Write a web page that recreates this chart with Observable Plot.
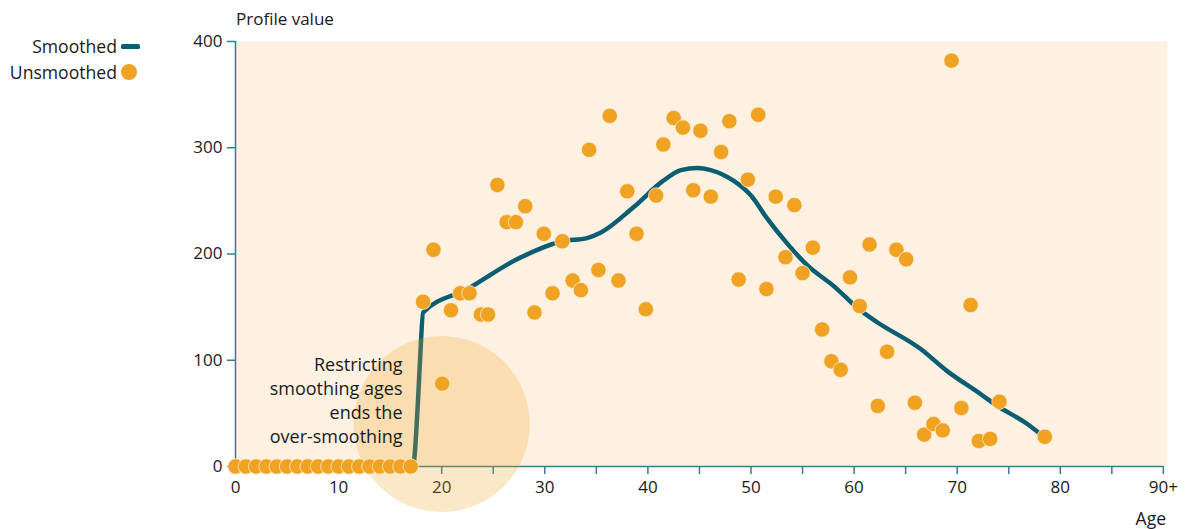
<!DOCTYPE html>
<html>
<head>
<meta charset="utf-8">
<script src="https://cdn.jsdelivr.net/npm/d3@7"></script>
<script src="https://cdn.jsdelivr.net/npm/@observablehq/plot@0.6"></script>
<style>
  body { margin: 0; background: #ffffff; }
  #wrap { position: relative; width: 1188px; height: 529px; font-family: "Open Sans", sans-serif; color: #1a1a1a; }
  #wrap svg { position: absolute; left: 0; top: 0; }
  .lbl { position: absolute; font-size: 17px; line-height: 20px; white-space: nowrap; }
</style>
</head>
<body>
<div id="wrap"></div>
<script>
// ---- data ----
const zeroAges = [0, 1, 2, 3, 4, 5, 6, 7, 8, 9, 10, 11, 12, 13, 14, 15, 16, 17];
const zeroValues = [0, 0, 0, 0, 0, 0, 0, 0, 0, 0, 0, 0, 0, 0, 0, 0, 0, 0];

const dotAges = [18.2, 19.2, 20.05, 20.9, 21.8, 22.7, 23.8, 24.5, 25.4, 26.3, 27.2, 28.1, 29.0, 29.9, 30.75, 31.7,
  32.7, 33.5, 34.3, 35.2, 36.3, 37.15, 38.0, 38.9, 39.8, 40.8, 41.5, 42.5, 43.4, 44.4, 45.1, 46.1, 47.1, 47.9,
  48.8, 49.7, 50.7, 51.5, 52.4, 53.35, 54.2, 55.0, 56.0, 56.9, 57.8, 58.7, 59.6, 60.55, 61.5, 62.3, 63.2,
  64.1, 65.05, 65.9, 66.8, 67.7, 68.6, 69.45, 70.4, 71.3, 72.1, 73.2, 74.1, 78.5];
const dotValues = [155, 204, 78, 147, 163, 163, 143, 143, 265, 230, 230, 245, 145, 219, 163, 212,
  175, 166, 298, 185, 330, 175, 259, 219, 148, 255, 303, 328, 319, 260, 316, 254, 296, 325,
  176, 270, 331, 167, 254, 197, 246, 182, 206, 129, 99, 91, 178, 151, 209, 57, 108,
  204, 195, 60, 30, 40, 34, 382, 55, 152, 24, 26, 61, 28];

const lineAges = [17.0, 17.2, 17.7, 17.9, 18.2, 22.5, 27.3, 31.7, 34.1, 35.4, 38.6, 41.5, 43.2, 44.8, 46.1, 48.3,
  50.0, 51.6, 53.5, 55.5, 58.0, 60.6, 62.2, 66.4, 69.0, 72.3, 73.9, 76.8, 78.4];
const lineValues = [0, 0, 62, 100, 145, 167, 195, 212, 215, 220, 244, 269, 279, 281, 279, 269,
  255, 233, 210, 189, 170, 147, 136, 111, 90, 68, 57, 40, 28];

const noteAge = [20];
const noteValue = [40];
const noteTextAge = [16.2];
const noteTextValue = [63];
const noteText = ["Restricting\nsmoothing ages\nends the\nover-smoothing"];

const xTicks = [0, 5, 10, 15, 20, 25, 30, 35, 40, 45, 50, 55, 60, 65, 70, 75, 80, 85, 90];
const xTickLabels = {0: "0", 10: "10", 20: "20", 30: "30", 40: "40", 50: "50", 60: "60", 70: "70", 80: "80", 90: "90+"};
const yTicks = [0, 100, 200, 300, 400];

// ---- styles ----
const bg = "#fef1e1";
const orange = "#f0a323";
const teal = "#0b5e72";
const axisColor = "#2f8090";
const font = "Open Sans, sans-serif";

const zeros = zeroAges.map((a, i) => ({age: a, value: zeroValues[i]}));
const dots = dotAges.map((a, i) => ({age: a, value: dotValues[i]}));
const line = lineAges.map((a, i) => ({age: a, value: lineValues[i]}));
const note = noteAge.map((a, i) => ({age: a, value: noteValue[i]}));
const noteT = noteTextAge.map((a, i) => ({age: a, value: noteTextValue[i], text: noteText[i]}));

const chart = Plot.plot({
  width: 1188,
  height: 529,
  marginLeft: 235,
  marginRight: 21,
  marginTop: 41,
  marginBottom: 63,
  style: {fontFamily: font, fontSize: "17px", background: "transparent", color: "#1a1a1a"},
  x: {domain: [0, 90.4]},
  y: {domain: [0, 400]},
  marks: [
    Plot.frame({fill: bg, stroke: null}),
    Plot.axisY({ticks: yTicks, tickSize: 8, tickPadding: 5, stroke: axisColor, strokeWidth: 1.5, fill: "#1a1a1a", label: null, fontSize: 17}),
    Plot.axisX({ticks: xTicks, tickSize: 8, tickPadding: 6, stroke: axisColor, strokeWidth: 1.5, fill: "#1a1a1a", label: null, fontSize: 17,
      tickFormat: d => xTickLabels[d] ?? ""}),
    Plot.ruleX([0], {y1: 0, y2: 400, stroke: axisColor, strokeWidth: 1.5}),
    Plot.ruleY([0], {x1: 0, x2: 90, stroke: axisColor, strokeWidth: 1.5}),
    Plot.line(line, {x: "age", y: "value", stroke: teal, strokeWidth: 4.5, curve: "monotone-x"}),
    Plot.dot(note, {x: "age", y: "value", r: 88, fill: orange, fillOpacity: 0.25, stroke: null}),
    Plot.dot(zeros, {x: "age", y: "value", r: 7.7, fill: orange, stroke: "#fff3e3", strokeWidth: 0.7}),
    Plot.dot(dots, {x: "age", y: "value", r: 7.7, fill: orange, stroke: "#fff3e3", strokeWidth: 0.7}),
    Plot.text(noteT, {x: "age", y: "value", text: "text", textAnchor: "end", lineAnchor: "middle", lineHeight: 1.34, fontSize: 18, fill: "#1a1a1a"})
  ]
});

const wrap = document.getElementById("wrap");
wrap.appendChild(chart);

function label(text, styles) {
  const d = document.createElement("div");
  d.className = "lbl";
  d.textContent = text;
  Object.assign(d.style, styles);
  wrap.appendChild(d);
  return d;
}
label("Profile value", {left: "236px", top: "9px"});
label("Age", {right: "22px", top: "508px", fontSize: "17.5px"});
label("Smoothed", {right: (1188 - 117) + "px", top: "36px", fontSize: "17.6px"});
label("Unsmoothed", {right: (1188 - 117) + "px", top: "62px", fontSize: "17.6px"});
const sw = document.createElement("div");
Object.assign(sw.style, {position: "absolute", left: "121px", top: "44px", width: "19px", height: "5px", background: teal, borderRadius: "1.5px"});
wrap.appendChild(sw);
const dd = document.createElement("div");
Object.assign(dd.style, {position: "absolute", left: "121px", top: "64px", width: "16px", height: "16px", background: orange, borderRadius: "50%"});
wrap.appendChild(dd);
</script>
</body>
</html>
